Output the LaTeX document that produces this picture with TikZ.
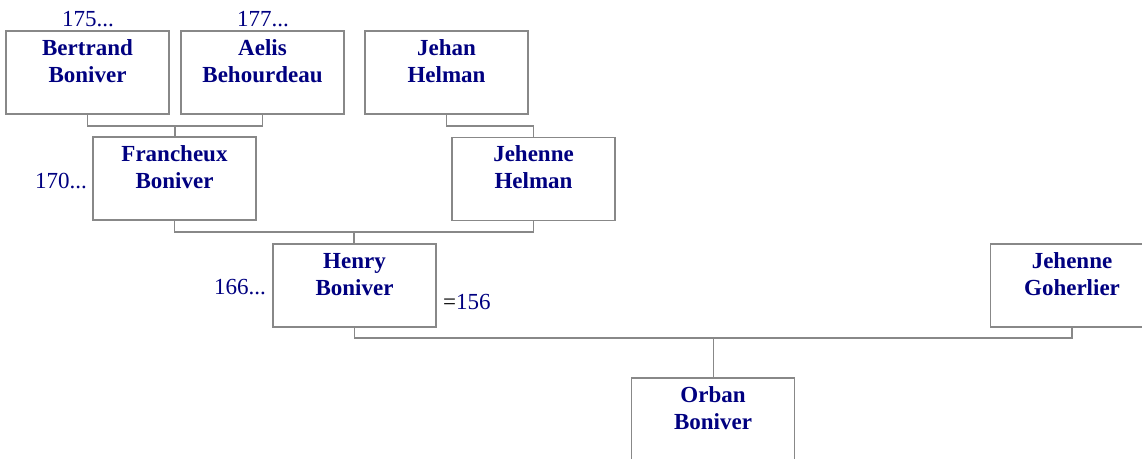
\documentclass[tikz,border=0pt]{standalone}
\usepackage{fontspec}
\setmainfont{Liberation Serif}
\usetikzlibrary{calc}
\definecolor{navy}{RGB}{0,0,128}
\definecolor{linegray}{RGB}{136,136,136}
\newcommand{\pname}[2]{\parbox[c][83pt][t]{163pt}{\centering\fontsize{23}{27}\selectfont\bfseries\color{navy}\rule{0pt}{24pt}#1\\#2}}
\tikzset{
  person/.style={draw=linegray, line width=1.5pt, inner sep=0pt, fill=white},
  conn/.style={draw=linegray, line width=1.5pt},
  datelbl/.style={inner sep=0pt, text=navy, font=\fontsize{23}{27}\selectfont},
}
\begin{document}
\begin{tikzpicture}[x=1pt,y=-1pt]
\useasboundingbox (0,0) rectangle (1142,458);
\clip (0,0) rectangle (1142,458);
\node[person] (bertrand) at (87.5,72.5) {\pname{Bertrand}{Boniver}};
\node[person] (aelis) at (262.5,72.5) {\pname{Aelis}{Behourdeau}};
\node[person] (jehan) at (446.5,72.5) {\pname{Jehan}{Helman}};
\node[person] (francheux) at (174.5,178.5) {\pname{Francheux}{Boniver}};
\node[person] (jehenneh) at (533.5,179) {\pname{Jehenne}{Helman}};
\node[person] (henry) at (354.5,285.5) {\pname{Henry}{Boniver}};
\node[person] (goherlier) at (1072,285.5) {\pname{Jehenne}{Goherlier}};
\node[person] (orban) at (713,419.5) {\pname{Orban}{Boniver}};

\node[datelbl, anchor=base] (d175) at (88,26) {175...};
\node[datelbl, anchor=base] (d177) at (263,26) {177...};
\node[datelbl, anchor=base east] (d170) at (87,188) {170...};
\node[datelbl, anchor=base east] (d166) at (266,294) {166...};
\node[inner sep=0pt, anchor=base west, font=\fontsize{23}{27}\selectfont] (m156) at (443,309) {=\textcolor{navy}{156}};

% Bertrand + Aelis -> Francheux
\draw[conn] (bertrand.south) -- ++(0,11) coordinate (c1) -| (aelis.south);
\coordinate (c1m) at ($(c1)!0.5!(c1 -| aelis.south)$);
\draw[conn] (c1m) -- (c1m |- francheux.north);
% Jehan -> Jehenne Helman
\draw[conn] (jehan.south) -- ++(0,11) -| (jehenneh.north);
% Francheux + Jehenne -> Henry
\draw[conn] (francheux.south) -- ++(0,11) coordinate (c2) -| (jehenneh.south);
\coordinate (c2m) at ($(c2)!0.5!(c2 -| jehenneh.south)$);
\draw[conn] (c2m) -- (c2m |- henry.north);
% Henry + Goherlier -> Orban
\draw[conn] (henry.south) -- ++(0,10) coordinate (c3) -| (goherlier.south);
\coordinate (c3m) at ($(c3)!0.5!(c3 -| goherlier.south)$);
\draw[conn] (c3m) -- (c3m |- orban.north);
\end{tikzpicture}
\end{document}
